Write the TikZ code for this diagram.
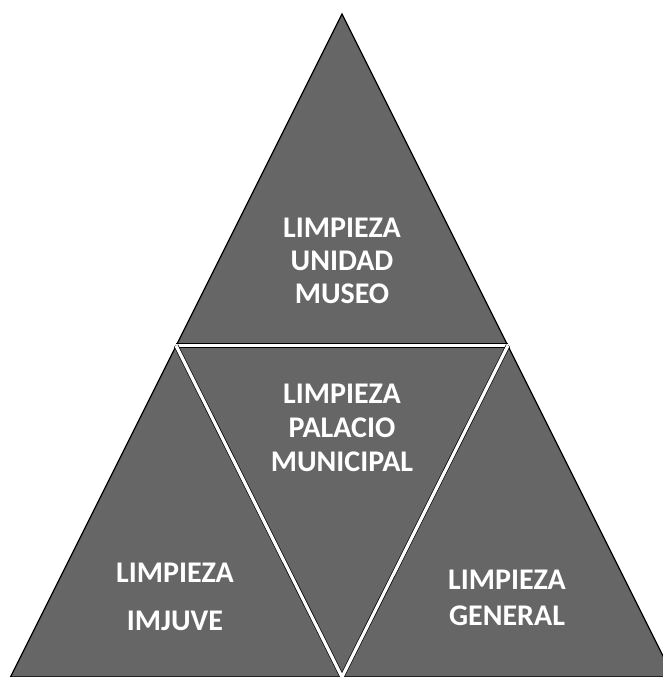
\documentclass[tikz,border=0pt]{standalone}
\usepackage{fontspec}
\setmainfont{Carlito}
\begin{document}
\begin{tikzpicture}[x=1pt,y=-1pt,
  piece/.style={fill=black!60},
  lbl/.style={text=white,font=\bfseries\fontsize{30}{#1}\selectfont,align=center,inner sep=0pt},
  sep/.style={draw=black,line width=0.7pt,double=white,double distance=3.2pt}]
\useasboundingbox (0,0) rectangle (663,677);
\clip (0,0) rectangle (663,677);
\coordinate (apex) at (342,14);
\coordinate (bl) at (10.5,677);
\coordinate (br) at (673.5,677);
\coordinate (ml) at (176,345.5);
\coordinate (mr) at (508,345.5);
\coordinate (mb) at (342,677);
\fill[piece,draw=black,line width=1.3pt] (apex) -- (bl) -- (br) -- cycle;
\draw[sep] (ml) -- (mr);
\draw[sep] (ml) -- (mb) -- (mr);
\node[lbl=33] (top) at (342,261) {LIMPIEZA\\UNIDAD\\MUSEO};
\node[lbl=34] (mid) at (342,428) {LIMPIEZA\\PALACIO\\MUNICIPAL};
\node[lbl=48] (left) at (175,597) {LIMPIEZA\\IMJUVE};
\node[lbl=36] (right) at (507,598) {LIMPIEZA\\GENERAL};
\end{tikzpicture}
\end{document}
